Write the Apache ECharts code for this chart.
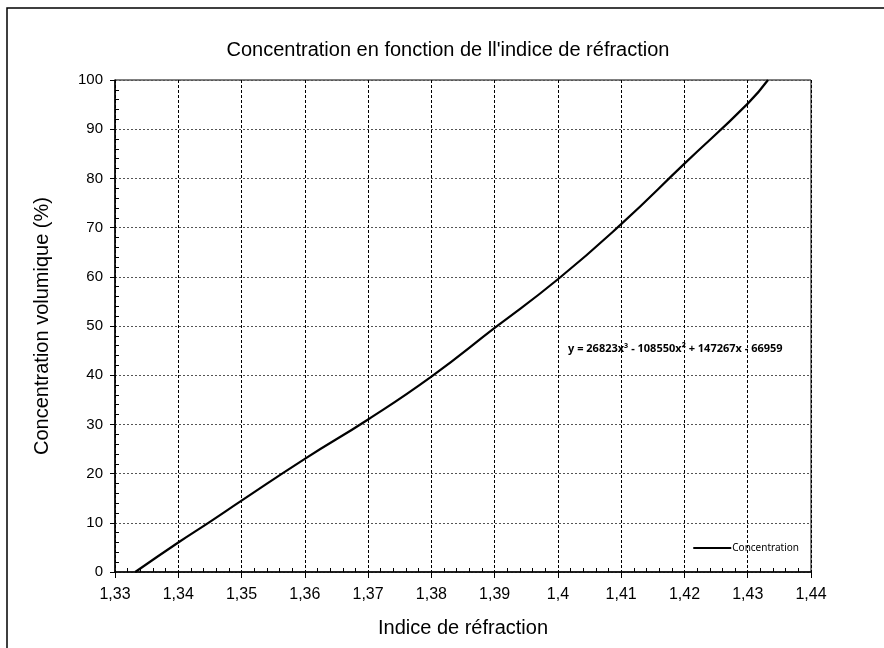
<!DOCTYPE html>
<html>
<head>
<meta charset="utf-8">
<script src="https://cdn.jsdelivr.net/npm/echarts@6/dist/echarts.min.js"></script>
<style>
  html, body { margin: 0; padding: 0; background: #fff; }
  #chart { width: 884px; height: 648px; }
</style>
</head>
<body>
<div id="chart"></div>
<script>
// indice de réfraction (x) et concentration volumique (y)
var refractionIndex = [1.3332, 1.34, 1.345, 1.35, 1.36, 1.37, 1.38, 1.39, 1.40, 1.41, 1.42, 1.43, 1.4332];
var concentration   = [0,      6,    10.2,  14.5, 23,   31,   39.7, 49.6, 59.5, 70.7, 83,   95.2, 100];
var seriesName = 'Concentration';
var trendLabel = 'y = 26823x\u00b3 - 108550x\u00b2 + 147267x - 66959';

var chart = echarts.init(document.getElementById('chart'));

var points = refractionIndex.map(function (x, i) { return [x, concentration[i]]; });

// 1.4 -> "1,4"
function fmtX(v) {
  return parseFloat(v.toFixed(2)).toString().replace('.', ',');
}

// axe "fantôme" pour les petites graduations vers l'intérieur
var minorOnly = {
  axisLine: { show: false },
  axisTick: { show: false, inside: true },
  minorTick: { show: true, splitNumber: 5, length: 4, lineStyle: { color: '#000' } },
  axisLabel: { show: false },
  splitLine: { show: false }
};

var option = {
  animation: false,
  textStyle: { fontFamily: 'Liberation Sans, Arial, sans-serif', color: '#000' },
  title: {
    text: 'Concentration en fonction de ll\'indice de réfraction',
    left: 443, top: 35, textAlign: 'center',
    textStyle: { fontSize: 20, fontWeight: 'normal', color: '#000' }
  },
  legend: {
    right: 80, bottom: 90,
    itemWidth: 38, itemHeight: 2, itemGap: 4,
    icon: 'rect',
    textStyle: { fontSize: 10, fontFamily: 'Noto Sans, sans-serif', color: '#000', padding: [0, 0, 0, -4] },
    data: [seriesName]
  },
  grid: {
    left: 115, right: 73, top: 80, bottom: 76,
    show: true, borderColor: '#000', borderWidth: 1
  },
  xAxis: [
    {
      type: 'value', min: 1.33, max: 1.44, interval: 0.01, position: 'bottom',
      name: 'Indice de réfraction', nameLocation: 'middle', nameGap: 46,
      nameTextStyle: { fontSize: 20, color: '#000' },
      axisLine: { lineStyle: { color: '#000', width: 1.5 } },
      axisTick: { length: 6, lineStyle: { color: '#000' } },
      axisLabel: { fontSize: 16, color: '#000', margin: 15, formatter: fmtX },
      splitLine: { show: true, lineStyle: { color: '#000', type: [3, 2], width: 1 } }
    },
    Object.assign({ type: 'value', min: 1.33, max: 1.44, interval: 0.01, position: 'bottom' }, minorOnly)
  ],
  yAxis: [
    {
      type: 'value', min: 0, max: 100, interval: 10, position: 'left',
      name: 'Concentration volumique (%)', nameLocation: 'middle', nameGap: 63,
      nameTextStyle: { fontSize: 20, color: '#000' },
      axisLine: { show: true, lineStyle: { color: '#000', width: 1.5 } },
      axisTick: { show: true, length: 5, lineStyle: { color: '#000' } },
      axisLabel: { fontSize: 15, color: '#000', margin: 12 },
      splitLine: { show: true, lineStyle: { color: '#555', type: [2, 2], width: 1 } }
    },
    Object.assign({ type: 'value', min: 0, max: 100, interval: 10, position: 'left' }, minorOnly)
  ],
  graphic: [
    {
      type: 'rect', silent: true, z: -1,
      shape: { x: 7, y: 8, width: 900, height: 700 },
      style: { fill: 'none', stroke: '#000', lineWidth: 1.5 }
    },
    {
      type: 'text', left: 568, top: 343, z: 10,
      style: {
        text: trendLabel, fontSize: 11, fill: '#000',
        fontFamily: 'Noto Sans, sans-serif', fontWeight: 'bold'
      }
    }
  ],
  series: [
    {
      name: seriesName, type: 'line', smooth: true, showSymbol: false,
      lineStyle: { color: '#000', width: 2.2 },
      itemStyle: { color: '#000' },
      data: points
    }
  ]
};

chart.setOption(option);
window.addEventListener('resize', function () { chart.resize(); });
</script>
</body>
</html>
